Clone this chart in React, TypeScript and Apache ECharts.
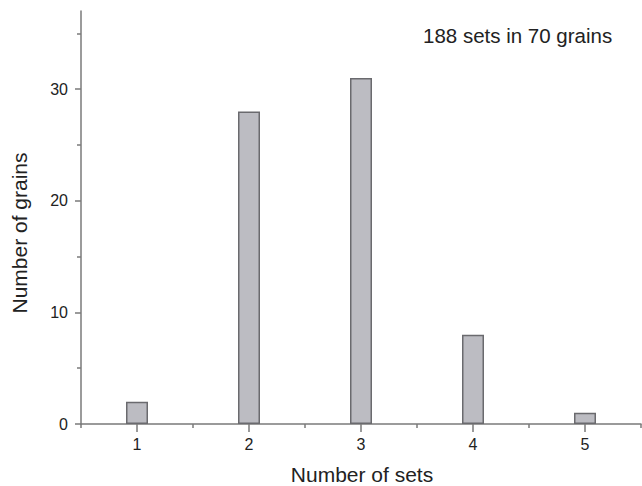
import React, { useEffect, useRef } from "react";
import * as echarts from "echarts";

const setCounts = [1, 2, 3, 4, 5];
const grainCounts = [2, 28, 31, 8, 1];
const yMajorTicks = [0, 10, 20, 30];
const yMinorTicks = [5, 15, 25, 35];
const xMinorTicks = [0.5, 1.5, 2.5, 3.5, 4.5, 5.5];
const annotation = "188 sets in 70 grains";
const xName = "Number of sets";
const yName = "Number of grains";

const FONT = "Liberation Sans, Arial, Helvetica, sans-serif";
const AXIS = "#7a7a7a";
const TEXT = "#222";

export default function App() {
  const ref = useRef<HTMLDivElement>(null);
  useEffect(() => {
    if (!ref.current) return;
    const chart = echarts.init(ref.current, null, { renderer: "svg" });
    const baseX = {
      type: "value",
      min: 0.5,
      max: 5.5,
      position: "bottom",
      splitLine: { show: false },
      axisLine: { show: true, onZero: false, lineStyle: { color: AXIS, width: 1.5 } },
    };
    const baseY = {
      type: "value",
      min: 0,
      max: 37,
      position: "left",
      splitLine: { show: false },
      axisLine: { show: true, onZero: false, lineStyle: { color: AXIS, width: 1.5 } },
    };
    chart.setOption({
      animation: false,
      backgroundColor: "#fff",
      grid: { left: 81, right: 1, top: 11, bottom: 62, containLabel: false },
      xAxis: [
        {
          ...baseX,
          axisTick: { show: true, customValues: setCounts, length: 8, lineStyle: { color: AXIS, width: 1.5 } },
          axisLabel: { show: true, customValues: setCounts, margin: 12, color: TEXT, fontSize: 16, fontFamily: FONT },
        },
        {
          ...baseX,
          axisLine: { show: false },
          axisTick: { show: true, customValues: xMinorTicks, length: 4, lineStyle: { color: AXIS, width: 1.5 } },
          axisLabel: { show: false },
        },
      ],
      yAxis: [
        {
          ...baseY,
          axisTick: { show: true, customValues: yMajorTicks, length: 6, lineStyle: { color: AXIS, width: 1.5 } },
          axisLabel: { show: true, customValues: yMajorTicks, margin: 13, color: TEXT, fontSize: 16, fontFamily: FONT },
        },
        {
          ...baseY,
          axisLine: { show: false },
          axisTick: { show: true, customValues: yMinorTicks, length: 4, lineStyle: { color: AXIS, width: 1.5 } },
          axisLabel: { show: false },
        },
      ],
      series: [
        {
          type: "bar",
          xAxisIndex: 0,
          yAxisIndex: 0,
          barWidth: 22,
          data: setCounts.map((s, i) => [s, grainCounts[i]]),
          itemStyle: { color: "#bcbcc2", borderColor: "#6a6a6e", borderWidth: 1.5 },
        },
      ],
      graphic: [
        {
          type: "text",
          x: 423,
          y: 35,
          style: { text: annotation, fontSize: 20.5, fontFamily: FONT, fill: TEXT, align: "left", verticalAlign: "middle" },
        },
        {
          type: "text",
          x: 362,
          y: 474,
          style: { text: xName, fontSize: 21, fontFamily: FONT, fill: TEXT, align: "center", verticalAlign: "middle" },
        },
        {
          type: "text",
          x: 19,
          y: 233,
          rotation: Math.PI / 2,
          style: { text: yName, fontSize: 21, fontFamily: FONT, fill: TEXT, align: "center", verticalAlign: "middle" },
        },
      ],
    });
    return () => chart.dispose();
  }, []);
  return <div ref={ref} style={{ width: 642, height: 486, position: "absolute", left: 0, top: 0 }} />;
}
